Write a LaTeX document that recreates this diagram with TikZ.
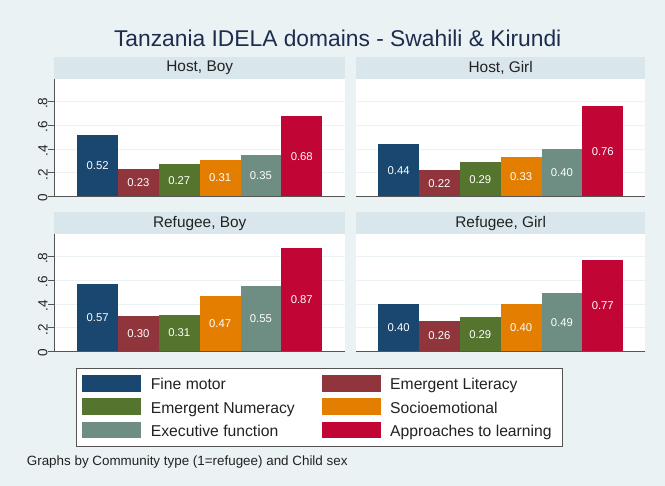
\documentclass[tikz,border=0pt]{standalone}
\usepackage{fontspec}
\setmainfont{Liberation Sans}
\definecolor{bgc}{HTML}{EAF2F3}
\definecolor{hdr}{HTML}{D9E6EB}
\definecolor{gridc}{HTML}{EAF2F3}
\definecolor{bar1}{HTML}{1A476F}
\definecolor{bar2}{HTML}{90353B}
\definecolor{bar3}{HTML}{55752F}
\definecolor{bar4}{HTML}{E37E00}
\definecolor{bar5}{HTML}{6E8E84}
\definecolor{bar6}{HTML}{C10534}
\definecolor{axisc}{HTML}{555555}
\definecolor{titlec}{HTML}{1E2D4F}
\definecolor{txtc}{HTML}{222222}
\tikzset{
  gridline/.style={draw=gridc, line width=1pt},
  axisline/.style={draw=axisc, line width=1pt},
  hdrbox/.style={fill=hdr, draw=none, inner sep=0pt, minimum height=22pt, text=txtc, font=\fontsize{15.4}{18}\selectfont},
  barbox/.style={draw=none, inner sep=0pt, minimum width=40.83pt, text=white, font=\fontsize{11.3}{13}\selectfont},
  ticklab/.style={rotate=90, text=txtc, inner sep=0pt, font=\fontsize{13.5}{15}\selectfont},
  keybox/.style={draw=none, inner sep=0pt, minimum width=59pt, minimum height=16.5pt, anchor=west},
  legtext/.style={anchor=base west, inner sep=0pt, text=txtc, font=\fontsize{15.7}{18}\selectfont},
}
\newcommand\tzpanel[6]{%
  \fill[white] (#2,#4+22) rectangle (#3,#4+139.7);
  \foreach \g in {0.2,0.4,0.6,0.8}
    \draw[gridline] (#2,#4+139.7-\g*118.75) -- (#3,#4+139.7-\g*118.75);
  \node[hdrbox, minimum width={#3-#2}, anchor=north west] (#1h) at (#2,#4) {#5};
  \foreach \v [count=\i] in {#6}
    \node[barbox, fill=bar\i, minimum height=\v*118.75pt, anchor=south west] (#1b\i)
      at ({(#2+#3)/2-122.5+(\i-1)*40.83}, #4+139.7) {\v};
  \coordinate (#1l) at (#2,#4+139.7);
  \coordinate (#1r) at (#3,#4+139.7);
  \draw[axisline] (#1l) -- (#1r);
}
\newcommand\tzyaxis[2]{%
  \coordinate (#1t) at (54,#2+22);
  \coordinate (#1o) at (54,#2+139.7);
  \draw[axisline] (#1t) -- (#1o);
  \foreach \g/\lab [count=\j] in {0/0,0.2/.2,0.4/.4,0.6/.6,0.8/.8}{
    \coordinate (#1k\j) at (54,#2+139.7-\g*118.75);
    \draw[axisline] (#1k\j) -- ++(-6,0) node[ticklab, anchor=south, xshift=-1.5pt] (#1n\j) {\lab};
  }
}
\begin{document}
\begin{tikzpicture}[x=1pt,y=-1pt]
\useasboundingbox[fill=bgc] (0,0) rectangle (665,486);
\node[text=titlec, font=\fontsize{22.8}{26}\selectfont, anchor=base] (title) at (337.7,46.3) {Tanzania IDELA domains - Swahili \& Kirundi};

\tzpanel{hb}{54}{345}{57}{Host, Boy}{0.52,0.23,0.27,0.31,0.35,0.68}
\tzpanel{hg}{356}{645}{57}{Host, Girl}{0.44,0.22,0.29,0.33,0.40,0.76}
\tzpanel{rb}{54}{345}{212}{Refugee, Boy}{0.57,0.30,0.31,0.47,0.55,0.87}
\tzpanel{rg}{356}{645}{212}{Refugee, Girl}{0.40,0.26,0.29,0.40,0.49,0.77}
\tzyaxis{ya}{57}
\tzyaxis{yb}{212}

% legend
\node[draw=axisc, line width=0.9pt, fill=white, minimum width=486pt, minimum height=77.7pt, inner sep=0pt, anchor=north west] (legend) at (75.7,368) {};
\node[keybox, fill=bar1] (k1) at (82,383.5) {};
\node[legtext] (t1) at (150.7,389.8) {Fine motor};
\node[keybox, fill=bar2] (k2) at (321.7,383.5) {};
\node[legtext] (t2) at (390,389.8) {Emergent Literacy};
\node[keybox, fill=bar3] (k3) at (82,406.5) {};
\node[legtext] (t3) at (150.7,413.2) {Emergent Numeracy};
\node[keybox, fill=bar4] (k4) at (321.7,406.5) {};
\node[legtext] (t4) at (390,413.2) {Socioemotional};
\node[keybox, fill=bar5] (k5) at (82,430) {};
\node[legtext] (t5) at (150.7,436.6) {Executive function};
\node[keybox, fill=bar6] (k6) at (321.7,430) {};
\node[legtext] (t6) at (390,436.6) {Approaches to learning};

\node[anchor=base west, inner sep=0pt, text=txtc, font=\fontsize{13.4}{16}\selectfont] (note) at (26.7,466) {Graphs by Community type (1=refugee) and Child sex};
\end{tikzpicture}
\end{document}
